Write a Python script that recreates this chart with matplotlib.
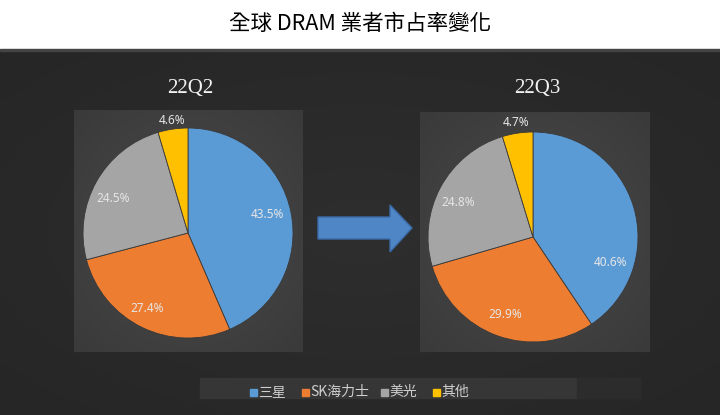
import numpy as np
import matplotlib
matplotlib.use("Agg")
import matplotlib.pyplot as plt
from matplotlib.patches import Rectangle, Polygon

plt.rcParams['font.family'] = ['Noto Sans CJK TC', 'DejaVu Sans']

# data
companies = ['三星', 'SK海力士', '美光', '其他']
quarters = ['22Q2', '22Q3']
share_q2 = [43.5, 27.4, 24.5, 4.6]
share_q3 = [40.6, 29.9, 24.8, 4.7]
colors = ['#5B9BD5', '#ED7D31', '#A5A5A5', '#FFC000']

W, H = 720, 415
fig = plt.figure(figsize=(W / 100, H / 100), dpi=100)
fig.patch.set_facecolor('white')
ax = fig.add_axes([0, 0, 1, 1])
ax.set_xlim(0, W)
ax.set_ylim(0, H)
ax.axis('off')


def Y(py):
    # pixel row (from top) -> data y
    return H - py


def gradient_box(x0, y0, x1, y1, inner, outer, z=0):
    # radial-ish gradient filled rectangle, pixel coords from top
    nx, ny = 64, 64
    gx, gy = np.meshgrid(np.linspace(-1, 1, nx), np.linspace(-1, 1, ny))
    d = np.clip(np.sqrt(gx ** 2 + gy ** 2) / 1.414, 0, 1)[..., None]
    c_in = np.array(matplotlib.colors.to_rgb(inner))
    c_out = np.array(matplotlib.colors.to_rgb(outer))
    img = c_in * (1 - d) + c_out * d
    ax.imshow(img, extent=(x0, x1, Y(y1), Y(y0)), origin='upper',
              aspect='auto', zorder=z, interpolation='bilinear')


# dark panel
gradient_box(0, 50, W, H, '#2e2e2e', '#262626', z=0)
ax.add_patch(Rectangle((0, Y(51)), W, 1.5, color='#444444', zorder=1))

# title
ax.text(W / 2, Y(24), '全球 DRAM 業者市占率變化', ha='center', va='center',
        fontsize=15.5, color='black', fontweight='medium', zorder=5)

boxes = [(74, 111, 303, 352), (420, 113, 650, 352)]
centers = [(188, 233), (533, 237)]
radius = 105
label_pos = [
    [(79, 18), (-41, -75), (-75, 35), (-16, 112)],
    [(77, -25), (-28, -78), (-75, 34), (-17, 114)],
]

for i, shares in enumerate([share_q2, share_q3]):
    x0, y0, x1, y1 = boxes[i]
    gradient_box(x0, y0, x1, y1, '#4a4a4a', '#3a3a3a', z=1)
    cx, cy = centers[i]
    ax.text((x0 + x1) / 2 + 2, Y(88), quarters[i], ha='center', va='center',
            fontsize=15, color='#f2f2f2', family='Liberation Serif', zorder=5)
    ax.pie(shares, colors=colors, startangle=90, counterclock=False,
           center=(cx, Y(cy)), radius=radius, frame=True,
           wedgeprops=dict(edgecolor='#3a3a3a', linewidth=0.6, zorder=3))
    for val, (dx, dy) in zip(shares, label_pos[i]):
        ax.text(cx + dx, Y(cy) + dy, f'{val}%', ha='center', va='center',
                fontsize=8.5, color='#e6e6e6', family='Noto Sans', zorder=6)

ax.set_xlim(0, W)
ax.set_ylim(0, H)
ax.set_aspect('auto')
ax.axis('off')

# arrow
arrow = Polygon([(318, Y(217)), (390, Y(217)), (390, Y(205)), (412, Y(228)),
                 (390, Y(252)), (390, Y(239)), (318, Y(239))],
                closed=True, facecolor='#4F86C6', edgecolor='#3a6aa5',
                linewidth=1, zorder=4)
ax.add_patch(arrow)

# legend strip
ax.add_patch(Rectangle((200, Y(398)), 440, 20, color='#363636', zorder=2))
ax.add_patch(Rectangle((577, Y(398)), 63, 20, color='#2c2c2c', zorder=2))
leg_x = [253, 305, 384, 436]
for lx, name, c in zip(leg_x, companies, colors):
    ax.add_patch(Rectangle((lx - 3.5, Y(392) - 3.5), 7, 7, color=c, zorder=3))
    ax.text(lx + 5, Y(392), name, ha='left', va='center', fontsize=10,
            color='#d0d0d0', zorder=5)

fig.savefig('out.png', dpi=100, facecolor=fig.get_facecolor())
